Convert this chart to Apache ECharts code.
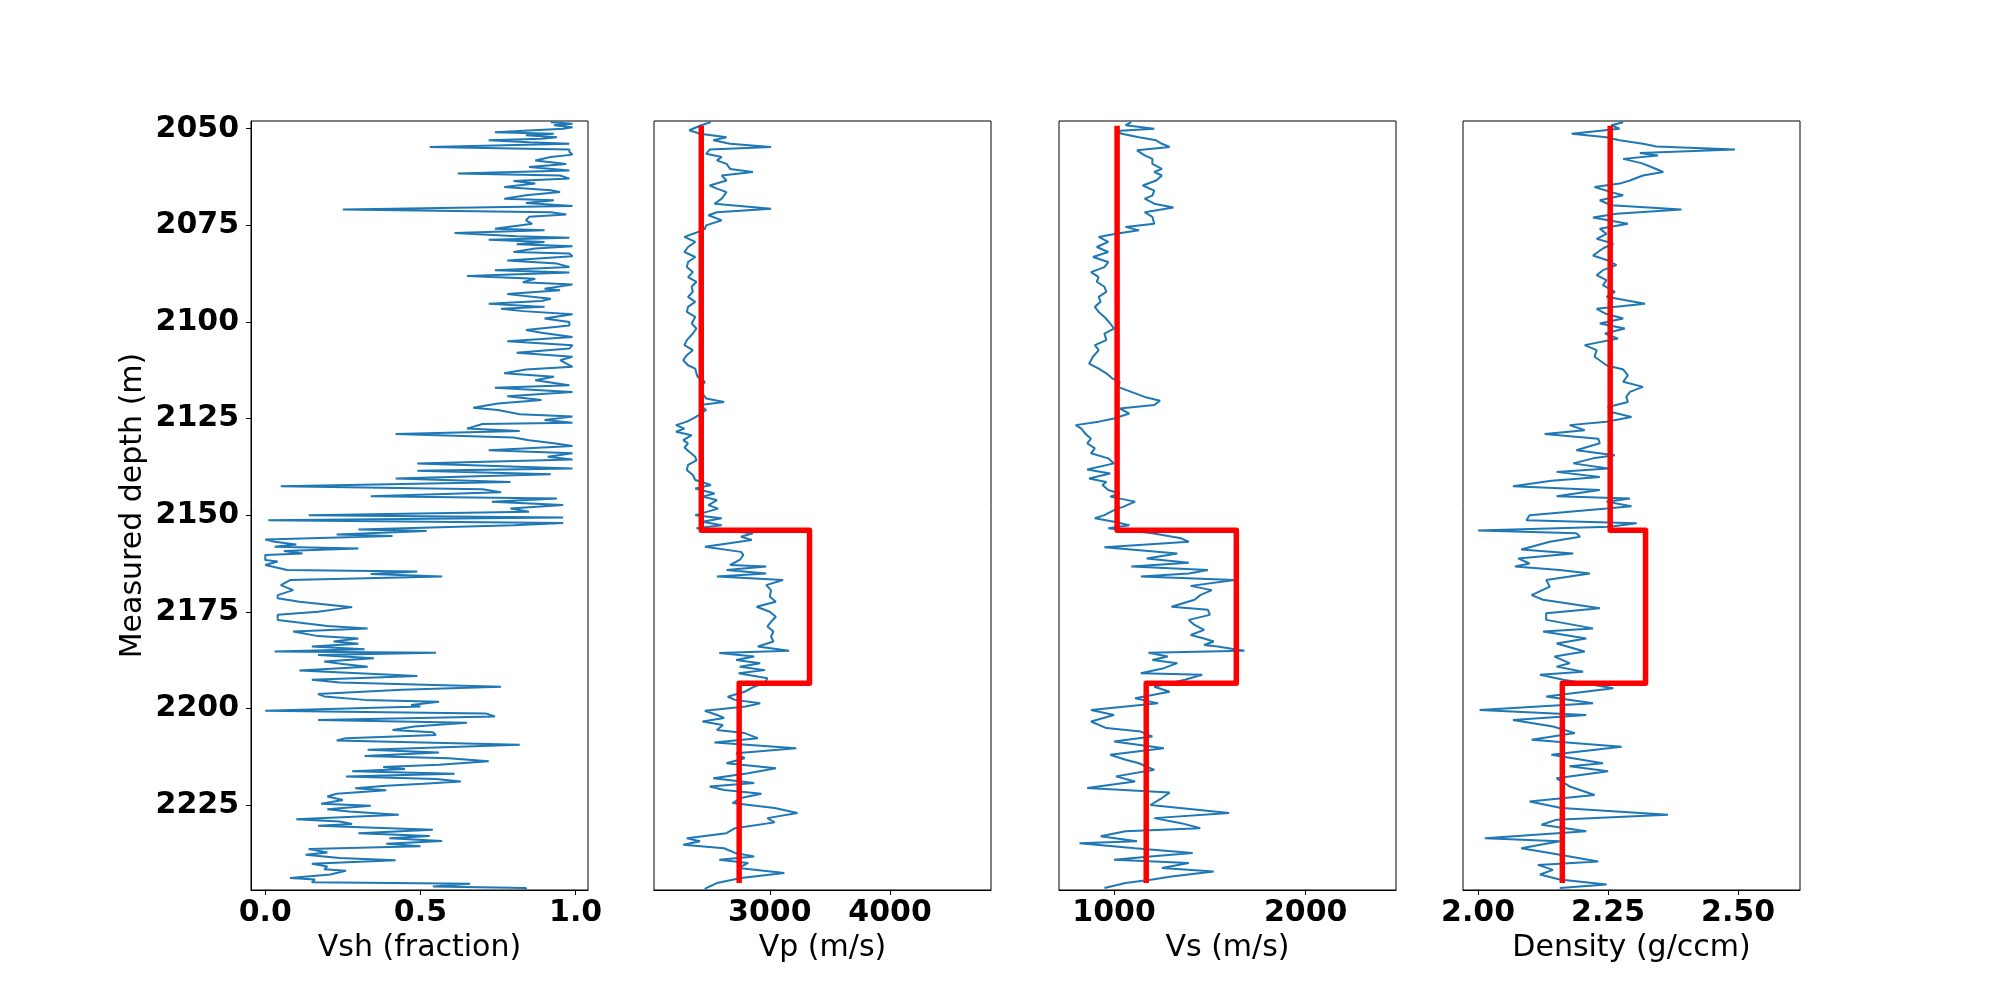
<!DOCTYPE html>
<html>
<head>
<meta charset="utf-8">
<title>Well logs</title>
<script src="https://cdn.jsdelivr.net/npm/echarts@6/dist/echarts.min.js"></script>
<style>
    html, body { margin: 0; padding: 0; background: #fff; }
    #chart { width: 2000px; height: 1000px; }
</style>
</head>
<body>
<div id="chart"></div>
<script>
// ---- data ----
const depthTicks = [2050, 2075, 2100, 2125, 2150, 2175, 2200, 2225];

const vshDepth = [
    2048.3,2048.7,2049.1,2049.6,2050.0,2050.9,2051.3,2051.7,2052.2,2052.6,
    2053.0,2053.5,2053.9,2054.7,2055.4,2056.0,2056.7,2057.3,2058.2,2059.1,
    2059.9,2060.8,2061.6,2062.1,2062.9,2063.5,2064.2,2065.1,2065.9,2066.4,
    2067.2,2068.1,2068.5,2069.2,2070.0,2070.9,2071.6,2072.2,2072.8,2073.7,
    2074.6,2075.9,2076.3,2077.0,2077.8,2078.2,2078.7,2079.3,2079.9,2080.4,
    2081.0,2081.9,2082.3,2083.0,2084.1,2084.9,2085.8,2086.6,2087.2,2088.1,
    2088.8,2089.7,2090.3,2091.4,2091.8,2092.8,2094.0,2094.6,2095.3,2096.1,
    2096.6,2097.2,2098.0,2099.1,2100.0,2100.9,2102.1,2102.8,2103.9,2105.0,
    2106.0,2106.9,2108.0,2109.0,2109.9,2111.6,2112.3,2113.3,2114.2,2115.1,
    2116.4,2117.0,2118.1,2119.2,2120.2,2121.1,2122.2,2122.8,2123.9,2124.5,
    2125.4,2126.1,2126.4,2127.6,2128.2,2129.0,2129.9,2130.6,2131.4,2132.1,
    2133.2,2134.0,2134.9,2135.6,2136.6,2137.9,2138.5,2139.4,2140.5,2141.4,
    2142.5,2143.3,2144.1,2145.1,2145.7,2146.5,2147.4,2148.3,
    2149.1,2150.0,2150.6,2151.3,2152.0,2152.6,2153.7,2154.1,2155.0,2155.4,
    2156.3,2156.9,2157.6,2158.2,2158.6,2159.3,2159.9,2160.3,2161.6,2162.0,
    2162.9,2163.8,2164.2,2164.6,2165.2,2165.9,2166.8,2168.1,2169.4,2170.7,
    2171.5,2172.4,2173.8,2175.0,2175.8,2177.1,2178.7,2179.3,2180.1,2181.3,
    2181.9,2182.7,2183.3,2184.0,2184.7,2185.3,2185.6,2186.2,2187.0,2187.9,
    2188.5,2189.2,2190.2,2191.6,2192.6,2193.3,2194.4,2195.2,2196.3,2196.9,
    2197.8,2198.3,2199.1,2199.5,2200.6,2201.3,2202.1,2203.0,2203.7,2204.7,
    2205.6,2206.2,2206.9,2207.7,2208.3,2209.4,2210.7,2211.4,2212.3,2212.9,
    2213.7,2214.6,2215.2,2215.7,2216.3,2216.9,2217.6,2218.3,2218.9,2219.5,
    2220.0,2220.7,2221.2,2222.1,2222.8,2223.7,2224.7,2225.2,2226.1,2226.7,
    2227.5,2228.7,2229.3,2229.9,2230.4,2231.4,2232.3,2233.0,2233.6,2234.3,
    2235.0,2235.7,2236.4,2237.3,2237.9,2238.7,2239.3,2240.2,2240.9,2241.6,
    2242.0,2243.0,2243.9,2244.3,2245.0,2245.4,2246.1,2246.5,2246.9
];
const vshValue = [
    0.92,0.99,0.93,0.99,0.96,0.74,0.93,0.84,0.94,0.89,
    0.72,0.85,0.98,0.53,0.98,0.98,0.99,0.92,0.87,0.97,
    0.85,0.98,0.62,0.95,0.98,0.80,0.87,0.77,0.92,0.95,
    0.84,0.77,0.93,0.84,0.99,0.25,0.92,0.97,0.85,0.84,
    0.86,0.74,0.90,0.61,0.81,0.98,0.72,0.90,0.81,0.99,
    0.87,0.80,0.98,0.99,0.78,0.94,0.98,0.74,0.98,0.65,
    0.87,0.83,0.99,0.90,0.95,0.78,0.92,0.89,0.72,0.90,
    0.76,0.83,0.99,0.90,0.98,0.98,0.84,0.89,0.99,0.78,
    0.99,0.98,0.81,0.99,0.95,0.99,0.84,0.77,0.93,0.87,
    0.98,0.74,0.99,0.78,0.89,0.75,0.67,0.75,0.82,0.99,
    0.90,0.99,0.70,0.65,0.82,0.42,0.80,0.85,0.93,0.99,
    0.72,0.99,0.91,0.99,0.49,0.99,0.49,0.92,0.42,0.79,
    0.05,0.70,0.76,0.34,0.94,0.73,0.96,0.79,
    0.85,0.14,0.96,0.01,0.96,0.80,0.30,0.52,0.23,0.41,
    0.00,0.03,0.10,0.03,0.30,0.06,0.12,0.00,0.00,0.04,
    0.00,0.05,0.07,0.49,0.34,0.57,0.08,0.05,0.09,0.04,
    0.04,0.11,0.28,0.17,0.04,0.04,0.20,0.33,0.09,0.17,
    0.30,0.22,0.30,0.15,0.32,0.03,0.55,0.17,0.35,0.19,
    0.25,0.33,0.11,0.49,0.15,0.24,0.76,0.44,0.17,0.19,
    0.32,0.56,0.47,0.50,0.00,0.71,0.74,0.17,0.65,0.48,
    0.41,0.54,0.55,0.26,0.23,0.82,0.33,0.56,0.32,0.59,
    0.72,0.56,0.38,0.45,0.28,0.61,0.26,0.55,0.63,0.51,
    0.39,0.29,0.39,0.23,0.20,0.25,0.18,0.34,0.20,0.27,
    0.43,0.10,0.24,0.28,0.17,0.54,0.30,0.53,0.40,0.57,
    0.39,0.50,0.14,0.20,0.13,0.24,0.42,0.15,0.20,0.19,
    0.26,0.21,0.08,0.16,0.15,0.66,0.54,0.84,0.84
];

const vpDepth = [
    2048.3,2049.1,2050.4,2051.3,2052.2,2053.0,2053.9,2054.7,2055.4,2056.5,
    2057.3,2058.2,2059.1,2060.4,2061.2,2062.1,2063.4,2064.7,2065.5,2066.4,
    2068.1,2069.4,2070.7,2071.6,2072.4,2073.7,2075.0,2075.9,2077.0,2078.0,
    2079.3,2080.6,2081.9,2083.2,2084.5,2085.8,2087.1,2088.4,2089.6,2090.9,
    2092.2,2093.5,2094.8,2096.1,2097.4,2098.7,2100.4,2101.7,2103.0,2104.7,
    2106.0,2107.3,2108.6,2109.9,2111.2,2112.1,2113.3,2114.2,2115.5,2117.2,
    2118.5,2119.8,2120.7,2121.5,2122.8,2123.9,2125.0,2125.8,2126.7,2127.6,
    2128.4,2129.3,2130.6,2131.4,2132.5,2133.6,2134.9,2135.8,2137.0,2138.3,
    2139.6,2140.9,2142.2,2143.1,2144.4,2145.2,2146.1,2147.4,2148.3,
    2150.0,2150.8,2151.7,2152.6,2153.4,2154.7,2155.6,2156.4,2158.2,2159.5,
    2160.3,2161.6,2162.9,2163.3,2164.2,2165.1,2165.9,2166.8,2168.1,2169.4,
    2171.1,2172.4,2173.7,2175.0,2176.3,2177.6,2178.8,2180.1,2181.4,2182.7,
    2184.0,2185.1,2185.7,2186.6,2187.5,2188.3,2189.2,2190.1,2190.9,2192.2,
    2193.3,2194.4,2195.7,2197.0,2197.8,2198.7,2199.5,2200.6,2201.7,2202.5,
    2203.4,2204.3,2205.6,2206.4,2207.7,2208.8,2210.3,2211.6,2212.9,2214.2,
    2215.5,2216.8,2218.1,2219.3,2220.2,2221.1,2222.1,2223.2,2224.5,2225.8,
    2227.1,2228.4,2229.5,2231.0,2232.3,2233.6,2234.4,2235.3,2236.2,2237.4,
    2238.3,2239.2,2240.0,2241.3,2242.6,2243.9,2245.2,2246.5,2246.9
];
const vpValue = [
    2510,2430,2330,2420,2640,2530,2670,3010,2500,2470,
    2600,2560,2640,2670,2860,2600,2640,2500,2560,2640,
    2600,2540,3010,2560,2490,2600,2470,2460,2380,2290,
    2380,2320,2290,2380,2320,2310,2360,2320,2390,2350,
    2360,2320,2380,2320,2310,2380,2350,2390,2360,2310,
    2290,2360,2310,2280,2320,2380,2390,2400,2460,2420,
    2440,2470,2620,2420,2470,2420,2360,2310,2220,2290,
    2220,2350,2280,2320,2290,2330,2380,2390,2320,2310,
    2360,2380,2510,2380,2540,2440,2560,2490,2570,
    2380,2600,2440,2600,2390,2860,2760,2850,2460,2760,
    2780,2750,2670,2970,2640,2970,2560,3110,2970,3010,
    3000,3050,2890,3000,3050,3010,2980,3030,3010,3030,
    2900,3160,2580,2870,2720,2920,2750,2960,2740,2980,
    2960,2870,2790,2650,2710,2920,2800,2460,2560,2620,
    2440,2610,2560,2790,2900,2540,3220,2720,2790,2640,
    3050,2820,2530,2870,2500,2620,2930,2760,2690,3040,
    3230,2980,3040,2710,2640,2310,2420,2280,2620,2710,
    2870,2580,2820,2740,3120,2760,2560,2470,2460
];

const vsDepth = [
    2048.3,2049.1,2050.0,2050.6,2051.3,2052.2,2053.0,2053.9,2054.7,2055.6,
    2056.9,2057.8,2059.1,2060.4,2061.2,2062.1,2063.4,2064.7,2066.0,2067.3,
    2068.1,2069.4,2070.4,2071.6,2072.8,2074.6,2075.4,2076.3,2077.2,2078.0,
    2079.3,2080.6,2081.9,2083.2,2084.5,2085.8,2087.1,2088.4,2089.6,2090.9,
    2092.2,2093.5,2094.8,2096.1,2097.4,2098.7,2100.4,2101.7,2103.0,2104.7,
    2106.0,2107.3,2109.0,2110.8,2112.1,2113.3,2114.6,2115.5,2116.8,2118.1,
    2119.4,2120.4,2121.5,2122.4,2123.7,2125.0,2125.8,2126.7,2127.6,2128.9,
    2130.2,2131.4,2132.7,2134.0,2135.3,2136.6,2138.2,2139.2,2140.5,2141.4,
    2142.2,2143.5,2144.4,2145.2,2146.5,2147.8,
    2148.7,2150.0,2150.8,2151.7,2152.6,2153.4,2154.7,2156.0,2156.9,2158.3,
    2159.9,2161.2,2162.3,2163.3,2164.2,2165.1,2165.9,2166.8,2168.3,2169.4,
    2170.7,2171.9,2173.7,2174.5,2175.8,2177.1,2178.4,2179.7,2181.0,2181.9,
    2182.7,2183.6,2184.0,2185.1,2185.6,2186.6,2187.5,2188.3,2189.6,2190.9,
    2191.3,2192.6,2194.4,2195.7,2197.4,2198.7,2200.4,2201.7,2203.4,2205.1,
    2206.0,2207.3,2208.6,2210.3,2212.0,2213.3,2214.2,2215.9,2217.6,2218.9,
    2220.6,2221.8,2223.2,2225.0,2227.1,2228.4,2229.7,2231.0,2231.8,2233.1,
    2234.4,2234.9,2236.2,2237.4,2238.3,2239.2,2240.0,2241.3,2242.2,2243.5,
    2244.3,2245.2,2246.5
];
const vsValue = [
    1090,1060,1210,1010,1040,1130,1220,1250,1290,1120,
    1160,1200,1200,1250,1210,1250,1220,1150,1210,1200,
    1160,1210,1310,1160,1200,1210,1060,1130,1010,920,
    970,910,970,890,970,950,880,920,910,950,
    960,920,930,900,920,950,980,1000,950,960,
    900,920,890,870,920,960,990,1030,1020,1090,
    1160,1240,1210,1030,1080,1000,920,800,830,850,
    880,860,900,880,970,1000,860,980,870,960,
    940,970,1030,980,1110,1050,
    1000,950,900,1000,1080,970,1200,1350,1390,950,
    1330,1170,1390,1090,1490,1390,1140,1630,1400,1510,
    1450,1420,1300,1490,1500,1390,1420,1470,1400,1470,
    1520,1470,1540,1680,1180,1280,1200,1330,1260,1140,
    1460,1370,1210,1290,1110,1230,880,1000,880,960,
    1140,1200,1000,1260,980,1060,1130,1210,1010,1110,
    860,1290,1250,1190,1600,1210,1350,1450,1060,930,
    1120,820,1110,1410,1190,1000,1390,1250,1520,1300,
    1200,1060,950
];

const rhoDepth = [
    2048.3,2049.1,2050.0,2051.3,2052.2,2053.0,2053.9,2054.6,2055.4,2056.3,
    2056.9,2057.8,2058.9,2059.9,2061.2,2062.1,2063.4,2064.2,2065.1,2066.4,
    2067.2,2068.5,2069.8,2070.9,2072.0,2073.0,2074.6,2075.9,2077.2,2078.5,
    2079.7,2081.0,2082.8,2084.1,2085.3,2086.6,2087.9,2089.2,2090.5,2092.2,
    2093.5,2095.3,2096.6,2097.8,2099.1,2100.4,2101.7,2103.0,2104.3,2106.0,
    2107.3,2109.0,2111.2,2112.3,2113.8,2115.5,2116.8,2118.1,2119.4,2120.7,
    2122.0,2123.3,2124.6,2125.8,2126.7,2128.0,2129.0,2130.2,2131.4,2133.2,
    2134.5,2135.3,2136.6,2137.9,2138.8,2140.1,2141.1,2142.5,2143.5,2145.1,
    2145.7,2146.5,2147.7,2148.3,
    2150.0,2151.3,2152.1,2153.0,2154.0,2154.7,2155.6,2156.9,2158.9,2159.9,
    2161.2,2162.5,2163.3,2164.2,2165.1,2166.8,2168.5,2170.7,2171.9,2174.1,
    2175.4,2177.1,2179.3,2180.1,2181.9,2183.2,2185.3,2186.6,2188.3,2189.2,
    2190.5,2191.3,2192.6,2194.8,2196.9,2198.7,2200.4,2201.7,2203.0,2204.7,
    2206.4,2208.1,2209.9,2212.0,2214.2,2215.0,2216.3,2218.1,2220.2,2222.4,
    2224.1,2225.8,2227.5,2228.8,2230.1,2231.8,2233.6,2234.4,2236.2,2237.4,
    2239.6,2240.5,2241.8,2243.0,2244.3,2245.6,2246.5
];
const rhoValue = [
    2.279,2.256,2.272,2.180,2.247,2.272,2.317,2.343,2.494,2.311,
    2.346,2.279,2.314,2.333,2.356,2.317,2.292,2.272,2.224,2.256,
    2.279,2.234,2.256,2.391,2.266,2.221,2.288,2.234,2.247,2.228,
    2.260,2.240,2.221,2.250,2.266,2.240,2.228,2.247,2.240,2.263,
    2.247,2.321,2.228,2.244,2.279,2.234,2.282,2.244,2.269,2.205,
    2.228,2.224,2.247,2.279,2.288,2.279,2.317,2.292,2.285,2.288,
    2.250,2.256,2.295,2.247,2.176,2.205,2.128,2.231,2.234,2.189,
    2.263,2.221,2.183,2.250,2.151,2.234,2.141,2.067,2.234,2.151,
    2.292,2.247,2.295,2.247,
    2.099,2.093,2.305,2.253,2.000,2.189,2.196,2.138,2.083,2.183,
    2.077,2.099,2.071,2.157,2.215,2.131,2.138,2.103,2.125,2.234,
    2.131,2.131,2.221,2.125,2.208,2.151,2.205,2.147,2.176,2.151,
    2.202,2.119,2.164,2.260,2.131,2.221,2.003,2.208,2.067,2.144,
    2.186,2.103,2.276,2.141,2.240,2.176,2.250,2.151,2.176,2.224,
    2.099,2.160,2.365,2.151,2.122,2.208,2.013,2.157,2.083,2.138,
    2.231,2.115,2.144,2.119,2.157,2.247,2.157
];

// blocky model (three layers)
const modelDepth = [2049.2, 2153.9, 2153.9, 2193.5, 2193.5, 2245.2];
const vpModel = [2430, 2430, 3330, 3330, 2745, 2745];
const vsModel = [1016, 1016, 1638, 1638, 1168, 1168];
const rhoModel = [2.254, 2.254, 2.322, 2.322, 2.162, 2.162];

// ---- chart ----
function pairs(values, depths) {
    let out = [];
    let n = Math.min(values.length, depths.length);
    for (let i = 0; i < n; i++) {
        out.push([values[i], depths[i]]);
    }
    return out;
}

const FONT = 'DejaVu Sans';
const FS = 30;
const panels = [
    {title: 'Vsh (fraction)', min: -0.046, max: 1.04, ticks: [0, 0.5, 1.0], digits: 1,
        log: pairs(vshValue, vshDepth), model: null},
    {title: 'Vp (m/s)', min: 2037, max: 4839, ticks: [3000, 4000], digits: 0,
        log: pairs(vpValue, vpDepth), model: pairs(vpModel, modelDepth)},
    {title: 'Vs (m/s)', min: 713, max: 2471, ticks: [1000, 2000], digits: 0,
        log: pairs(vsValue, vsDepth), model: pairs(vsModel, modelDepth)},
    {title: 'Density (g/ccm)', min: 1.971, max: 2.619, ticks: [2.0, 2.25, 2.5], digits: 2,
        log: pairs(rhoValue, rhoDepth), model: pairs(rhoModel, modelDepth)}
];
const gridLeft = [251, 654, 1059, 1463];

let grids = [], xAxes = [], yAxes = [], series = [];
panels.forEach(function (p, i) {
    grids.push({
        left: gridLeft[i], top: 121, width: 337, height: 769,
        show: true, borderColor: '#000', borderWidth: 1, backgroundColor: 'transparent'
    });
    xAxes.push({
        gridIndex: i,
        type: 'value',
        min: p.min,
        max: p.max,
        position: 'bottom',
        splitLine: {show: false},
        axisLine: {show: true, onZero: false, lineStyle: {color: '#000', width: 1}},
        axisTick: {show: true, length: 5, customValues: p.ticks, lineStyle: {color: '#000', width: 1}},
        axisLabel: {
            customValues: p.ticks,
            formatter: function (v) { return Number(v).toFixed(p.digits); },
            fontFamily: FONT, fontWeight: 'bold', fontSize: FS, color: '#000', margin: 8
        },
        name: p.title,
        nameLocation: 'middle',
        nameGap: 41,
        nameTextStyle: {fontFamily: FONT, fontSize: FS, color: '#000'}
    });
    let first = (i === 0);
    yAxes.push({
        gridIndex: i,
        type: 'value',
        inverse: true,
        min: 2048,
        max: 2247,
        splitLine: {show: false},
        axisLine: {show: first, onZero: false, lineStyle: {color: '#000', width: 1}},
        axisTick: {show: first, length: 5, customValues: depthTicks, lineStyle: {color: '#000', width: 1}},
        axisLabel: {
            show: first,
            customValues: depthTicks,
            formatter: function (v) { return String(v); },
            fontFamily: FONT, fontWeight: 'bold', fontSize: FS, color: '#000', margin: 12
        },
        name: first ? 'Measured depth (m)' : '',
        nameLocation: 'middle',
        nameGap: 103,
        nameTextStyle: {fontFamily: FONT, fontSize: FS, color: '#000'}
    });
    series.push({
        type: 'line',
        xAxisIndex: i,
        yAxisIndex: i,
        data: p.log,
        symbol: 'none',
        lineStyle: {color: '#1f77b4', width: 2},
        z: 2
    });
    if (p.model) {
        series.push({
            type: 'line',
            xAxisIndex: i,
            yAxisIndex: i,
            data: p.model,
            symbol: 'none',
            lineStyle: {color: '#ff0000', width: 5.5, join: 'round'},
            z: 3
        });
    }
});

let myChart = echarts.init(document.getElementById('chart'), null, {renderer: 'canvas'});
myChart.setOption({
    animation: false,
    backgroundColor: '#fff',
    grid: grids,
    xAxis: xAxes,
    yAxis: yAxes,
    series: series
});
</script>
</body>
</html>
